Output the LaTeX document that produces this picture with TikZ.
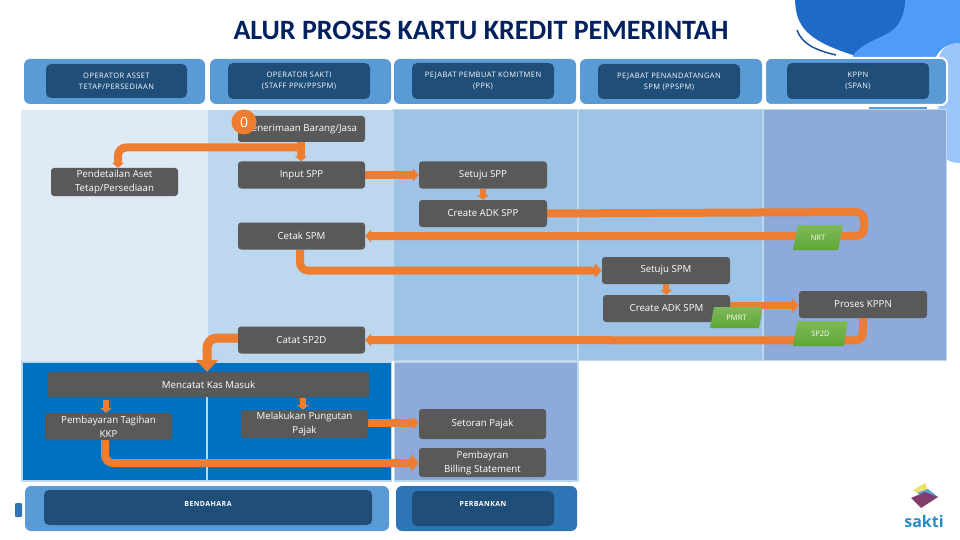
\documentclass[tikz,border=0pt]{standalone}
\usepackage{fontspec}
\setmainfont{Open Sans}
\newfontfamily\titlefont{Carlito}
\usetikzlibrary{arrows.meta,shapes.geometric}
\definecolor{hdrouter}{HTML}{5B9BD5}
\definecolor{hdrouterb}{HTML}{2E75B6}
\definecolor{hdrinner}{HTML}{1F4E79}
\definecolor{laneA}{HTML}{DEEAF6}
\definecolor{laneB}{HTML}{BDD7EE}
\definecolor{laneC}{HTML}{9DC3E6}
\definecolor{laneD}{HTML}{8EAADB}
\definecolor{laneE}{HTML}{0070C0}
\definecolor{boxgrey}{HTML}{595959}
\definecolor{flow}{HTML}{ED7D31}
\definecolor{titleblue}{HTML}{002060}
\definecolor{tagtop}{HTML}{7FB95A}
\definecolor{tagbot}{HTML}{5EA636}
\pgfdeclarelayer{lanes}
\pgfdeclarelayer{arrowlayer}
\pgfsetlayers{lanes,arrowlayer,main}
\tikzset{
  x=1pt,y=-1pt,
  hdr/.style={draw=none,fill=hdrouter,rounded corners=6pt},
  hdrbox/.style={fill=hdrinner,rounded corners=5pt,text=white,align=center,inner sep=0pt,
    font=\fontsize{7.5}{11.2}\selectfont\addfontfeature{LetterSpace=6}},
  hdrlow/.style={hdrbox,font=\fontsize{7}{8}\selectfont\bfseries\addfontfeature{LetterSpace=6}},
  stepbox/.style={fill=boxgrey,rounded corners=3pt,text=white,align=center,inner sep=0pt,
    font=\fontsize{9.7}{14}\selectfont},
  tag/.style={trapezium,trapezium stretches=true,trapezium left angle=72,trapezium right angle=108,
    top color=tagtop,bottom color=tagbot,inner sep=0pt,
    text=white,font=\fontsize{7.5}{9}\selectfont},
  flowline/.style={draw=flow,line width=8pt,rounded corners=8pt,-{Triangle[length=7pt,width=15pt]}},
  flowsmall/.style={draw=flow,line width=8pt,rounded corners=8pt,-{Triangle[length=5pt,width=12pt]}},
  flowthin/.style={draw=flow,line width=7.5pt,-{Triangle[length=7pt,width=15pt]}},
  flowshort/.style={draw=flow,line width=6pt,-{Triangle[length=5pt,width=12pt]}},
  flowbig/.style={draw=flow,line width=9pt,rounded corners=10pt,-{Triangle[length=12pt,width=22pt]}},
}
\begin{document}
\begin{tikzpicture}
\useasboundingbox (0,0) rectangle (960,540);
\begin{pgfonlayer}{lanes}
  % top-right decoration
  \clip (0,0) rectangle (960,540);
  \fill[color={rgb,255:red,156;green,197;blue,251}] (960,43) .. controls (945,43) and (937,52) .. (937,70) -- (940,150) .. controls (945,160) and (950,163) .. (960,163) -- cycle;
  \fill[color={rgb,255:red,78;green,155;blue,250}] (880,0) -- (960,0) -- (960,43) .. controls (945,43) and (937,52) .. (935,60) -- (853,60) -- (853,50) -- cycle;
  \fill[color={rgb,255:red,30;green,106;blue,198}] (795,0) .. controls (796,25) and (805,40) .. (853,55) .. controls (865,40) and (885,38) .. (895,28) .. controls (902,20) and (905,10) .. (905,0) -- cycle;
  \draw[color={rgb,255:red,30;green,80;blue,160},line width=1.5pt] (797,30) .. controls (802,44) and (815,50) .. (836,55);
  % lanes
  \fill[laneA] (21,110) rectangle (208,361);
  \fill[laneB] (208,110) rectangle (393,361);
  \fill[laneB] (392,109) rectangle (947,361);
  \fill[laneC] (394,110.5) rectangle (577,359.5);
  \fill[laneC] (578.5,110.5) rectangle (762,359.5);
  \fill[laneD] (763.5,110.5) rectangle (946,359.5);
  \fill[laneB] (21,361) rectangle (579,482);
  \fill[white] (392,360.5) rectangle (393.5,482);
  \fill[laneE] (23,363) rectangle (390.5,480);
  \fill[laneD] (394.5,363) rectangle (577,480);
  \draw[laneB,line width=1.2pt] (207,397) -- (207,480);
  % header bands
  \fill[hdr] (24,59) rectangle (205,104);
  \fill[hdr] (210,59) rectangle (391,104);
  \fill[hdr] (394,59) rectangle (576,104);
  \fill[hdr] (580,59) rectangle (762,104);
  \draw[hdr,draw=white,line width=2pt] (765,58) rectangle (947,105);
  \fill[hdrouter] (869,107) rectangle (927,109.5);
  \fill[hdr] (25,486) rectangle (389,531);
  \fill[hdr,fill=hdrouterb] (396,486) rectangle (577,531);
  \fill[hdrouterb,rounded corners=1pt] (15,503) rectangle (22,517);
\end{pgfonlayer}

\node[text=titleblue,font=\titlefont\bfseries\fontsize{28}{32}\selectfont] (title) at (481,30) {ALUR PROSES KARTU KREDIT PEMERINTAH};

% header labels
\node[hdrbox,minimum width=141,minimum height=34] (h1) at (116.5,81) {OPERATOR ASSET\\TETAP/PERSEDIAAN};
\node[hdrbox,minimum width=142,minimum height=36] (h2) at (299,81) {OPERATOR SAKTI\\(STAFF PPK/PPSPM)};
\node[hdrbox,minimum width=142,minimum height=36] (h3) at (483,81) {PEJABAT PEMBUAT KOMITMEN\\(PPK)};
\node[hdrbox,minimum width=142,minimum height=35] (h4) at (669,81.5) {PEJABAT PENANDATANGAN\\SPM (PPSPM)};
\node[hdrbox,minimum width=142,minimum height=36] (h5) at (858,81) {KPPN\\(SPAN)};
\node[hdrlow,minimum width=328,minimum height=35,text depth=8pt] (h6) at (208,507.5) {BENDAHARA};
\node[hdrlow,minimum width=142,minimum height=35,text depth=9pt] (h7) at (483,508.5) {PERBANKAN};

% process boxes
\node[stepbox,minimum width=127,minimum height=26] (terima) at (301.5,129) {Penerimaan Barang/Jasa};
\node[circle,fill=flow,minimum size=25,inner sep=0pt,text=white,font=\fontsize{14}{14}\selectfont] (nol) at (244,122) {0};
\node[stepbox,minimum width=127,minimum height=27] (input) at (301.5,175) {Input SPP};
\node[stepbox,minimum width=127,minimum height=28] (detail) at (114.5,182) {Pendetailan Aset\\Tetap/Persediaan};
\node[stepbox,minimum width=128,minimum height=27] (setspp) at (483,175) {Setuju SPP};
\node[stepbox,minimum width=128,minimum height=27] (adkspp) at (483,213.5) {Create ADK SPP};
\node[stepbox,minimum width=127,minimum height=27] (cetak) at (301.5,236) {Cetak SPM};
\node[stepbox,minimum width=128,minimum height=27] (setspm) at (666,270.5) {Setuju SPM};
\node[stepbox,minimum width=127,minimum height=27] (adkspm) at (666.5,308.5) {Create ADK SPM};
\node[stepbox,minimum width=128,minimum height=27] (proses) at (863,304.5) {Proses KPPN};
\node[stepbox,minimum width=127,minimum height=27] (catat) at (301.5,340) {Catat SP2D};
\node[stepbox,minimum width=321,minimum height=25,rounded corners=1pt] (kas) at (208.5,384.5) {Mencatat Kas Masuk};
\node[stepbox,minimum width=127,minimum height=27] (bayar) at (108.5,426.5) {Pembayaran Tagihan\\KKP};
\node[stepbox,minimum width=127,minimum height=28] (pungut) at (304.5,424) {Melakukan Pungutan\\Pajak};
\node[stepbox,minimum width=127,minimum height=30] (setor) at (482.5,424) {Setoran Pajak};
\node[stepbox,minimum width=127,minimum height=29] (billing) at (482.5,462.5) {Pembayran\\Billing Statement};

% green tags
\node[tag,minimum width=50,minimum height=25] (nrt) at (818,237.5) {NRT};
\node[tag,minimum width=53,minimum height=21] (pmrt) at (736.5,317.5) {PMRT};
\node[tag,minimum width=55,minimum height=25] (sp2d) at (820.5,333.5) {SP2D};

% connectors
\coordinate (jA) at (301,147.5);
\begin{pgfonlayer}{arrowlayer}
  \draw[flowsmall] (terima.south -| jA) -- (input.north -| jA);
  \draw[flowsmall] (jA) -- (118,147.5) -- (detail.north -| 118,0);
  \draw[flowthin,-{Triangle[length=6pt,width=13pt]}] (input.east) -- (setspp.west);
  \draw[flowshort] (setspp.south) -- (adkspp.north);
  \draw[flowline,-{Triangle[length=6pt,width=13pt]}] (adkspp.east) -- (864,212) -- (864,236) -- (cetak.east);
  \draw[flowline] (cetak.south -| 300,0) -- (300,270.5) -- (setspm.west);
  \draw[flowshort] (setspm.south) -- (adkspm.north);
  \draw[flowthin] (adkspm.east |- 0,305.5) -- (proses.west |- 0,305.5);
  \draw[flowline,-{Triangle[length=6pt,width=13pt]}] (proses.south) -- (863,340.5) -- (catat.east);
  \draw[flowbig] (catat.west |- 0,338) -- (207,338) -- (kas.north -| 207,0);
  \draw[flowshort] (106,400) -- (bayar.north -| 106,0);
  \draw[flowshort] (303,398) -- (pungut.north -| 303,0);
  \draw[flowthin,-{Triangle[length=6pt,width=13pt]}] (pungut.east |- 0,423) -- (setor.west |- 0,423);
  \draw[flowline,-{Triangle[length=8pt,width=18pt]}] (bayar.south -| 105,0) -- (105,463) -- (billing.west |- 0,463);
\end{pgfonlayer}

% logo
\fill[color={rgb,255:red,235;green,225;blue,110}] (913,490) -- (925,483) -- (928,490) -- (917,493) -- cycle;
\fill[color={rgb,255:red,90;green,160;blue,215}] (917,493) -- (928,489) -- (938,497) -- (925,497) -- cycle;
\fill[color={rgb,255:red,130;green,60;blue,110}] (911,498) -- (925,492) -- (938,497) -- (921,508) -- cycle;
\node[text={rgb,255:red,40;green,140;blue,200},inner sep=0pt,font=\fontsize{16}{16}\selectfont\bfseries] (logo) at (924,521) {sakti};
\end{tikzpicture}
\end{document}
